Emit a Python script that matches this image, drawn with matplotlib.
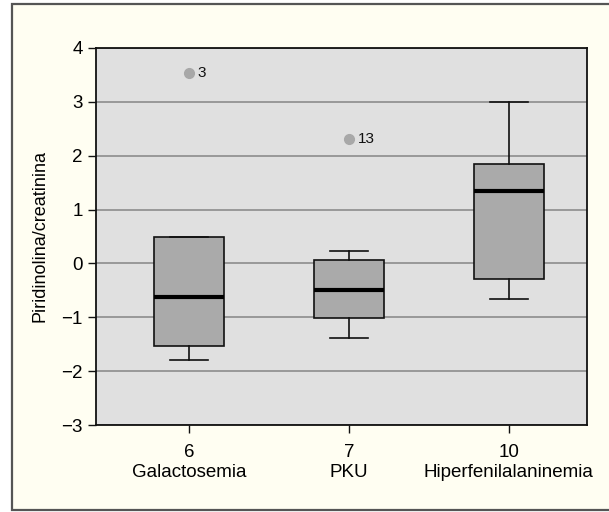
import matplotlib
matplotlib.use("Agg")
import matplotlib.pyplot as plt
from matplotlib.patches import Rectangle

# box statistics
groups = ["Galactosemia", "PKU", "Hiperfenilalaninemia"]
counts = ["6", "7", "10"]
q1 = [-1.54, -1.02, -0.29]
med = [-0.62, -0.49, 1.35]
q3 = [0.49, 0.07, 1.84]
whislo = [-1.80, -1.38, -0.66]
whishi = [0.49, 0.23, 3.00]
fliers = [[3.54], [2.31], []]
flier_ids = [["3"], ["13"], []]

plt.rcParams["font.family"] = ["Liberation Sans", "DejaVu Sans"]

fig = plt.figure(figsize=(6.09, 5.12), dpi=100)
fig.patches.append(Rectangle((12 / 609, 2 / 512), 1.0, 506 / 512, transform=fig.transFigure,
                             facecolor="#fffef2", edgecolor="#555555", lw=1.6, zorder=-10))

ax = fig.add_axes([96 / 609, 87 / 512, 491 / 609, 377 / 512])
ax.set_facecolor("#e0e0e0")

stats = []
for i in range(len(groups)):
    stats.append(dict(q1=q1[i], med=med[i], q3=q3[i], whislo=whislo[i],
                      whishi=whishi[i], fliers=fliers[i]))
pos = list(range(len(groups)))
ax.bxp(stats, positions=pos, widths=0.44, patch_artist=True, showcaps=True,
       boxprops=dict(facecolor="#aaaaaa", edgecolor="#111111", lw=1.2),
       medianprops=dict(color="black", lw=3),
       whiskerprops=dict(color="#111111", lw=1.2),
       capprops=dict(color="#111111", lw=1.2),
       capwidths=0.24,
       flierprops=dict(marker="o", markerfacecolor="#a8a8a8", markeredgecolor="#a8a8a8",
                       markersize=7),
       zorder=3)

for i in pos:
    for v, lab in zip(fliers[i], flier_ids[i]):
        ax.text(i + 0.055, v, lab, fontsize=11, va="center", ha="left", color="#111111")

ax.set_xlim(-0.583, 2.49)
ax.set_ylim(-3, 4)
ax.set_yticks(range(-3, 5))
ax.set_yticklabels([str(t).replace("-", "\u2212") for t in range(-3, 5)], fontsize=13.5)
ax.set_xticks(pos)
ax.set_xticklabels([f"{c}\n{g}" for c, g in zip(counts, groups)], fontsize=13.5,
                   linespacing=1.2)
ax.tick_params(length=6, width=1, color="#111111", direction="out")
ax.tick_params(axis="x", pad=8)
ax.yaxis.grid(True, color="#8c8c8c", lw=1.2)
ax.set_axisbelow(True)
for s in ax.spines.values():
    s.set_linewidth(1.3)
    s.set_color("#111111")
ax.set_ylabel("Piridinolina/creatinina", fontsize=13, labelpad=9)

fig.savefig("out.png", dpi=100)
